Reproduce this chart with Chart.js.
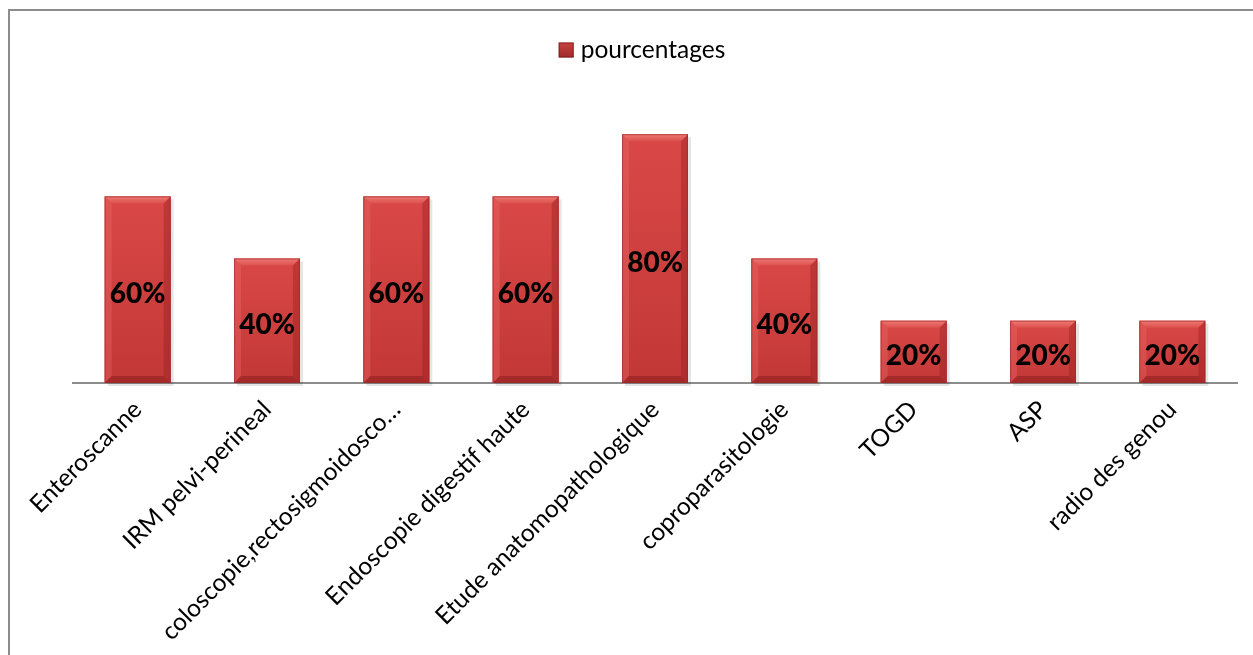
<!DOCTYPE html>
<html>
<head>
<meta charset="utf-8">
<script src="https://cdn.jsdelivr.net/npm/chart.js@4"></script>
<style>
  html, body { margin: 0; padding: 0; background: #fff; }
  #wrap { position: relative; width: 1253px; height: 655px; }
  #frame { position: absolute; left: 8px; top: 9px; width: 1260px; height: 660px;
           border-left: 2px solid #8c8c8c; border-top: 2px solid #8c8c8c; box-sizing: border-box; }
  canvas { position: absolute; left: 0; top: 0; }
</style>
</head>
<body>
<div id="wrap">
  <div id="frame"></div>
  <canvas id="c" width="1253" height="655"></canvas>
</div>
<script>
const categories = [
  "Enteroscanne",
  "IRM pelvi-perineal",
  "coloscopie,rectosigmoidosco…",
  "Endoscopie digestif haute",
  "Etude anatomopathologique",
  "coproparasitologie",
  "TOGD",
  "ASP",
  "radio des genou"
];
const pourcentages = [60, 40, 60, 60, 80, 40, 20, 20, 20];
const seriesName = "pourcentages";

const FONT = "Lato, 'Open Sans', sans-serif";

// Bevelled bar faces plus the value written in the middle of each bar
const bevelBars = {
  id: 'bevelBars',
  afterDatasetsDraw(chart) {
    const ctx = chart.ctx;
    const meta = chart.getDatasetMeta(0);
    meta.data.forEach((bar, i) => {
      const x0 = bar.x - bar.width / 2, x1 = bar.x + bar.width / 2;
      const y0 = bar.y, y1 = bar.base;
      const e = 7;
      ctx.save();
      // face
      const g = ctx.createLinearGradient(0, y0, 0, y1);
      g.addColorStop(0, '#d94846');
      g.addColorStop(1, '#c23837');
      ctx.fillStyle = g;
      ctx.fillRect(x0, y0, x1 - x0, y1 - y0);
      // top bevel
      const tg = ctx.createLinearGradient(0, y0, 0, y0 + e);
      tg.addColorStop(0, '#ee7a74');
      tg.addColorStop(1, '#dc504d');
      ctx.fillStyle = tg;
      ctx.beginPath();
      ctx.moveTo(x0, y0); ctx.lineTo(x1, y0); ctx.lineTo(x1 - e, y0 + e); ctx.lineTo(x0 + e, y0 + e); ctx.closePath();
      ctx.fill();
      // left bevel
      ctx.fillStyle = 'rgba(235,110,105,0.35)';
      ctx.beginPath();
      ctx.moveTo(x0, y0); ctx.lineTo(x0 + e, y0 + e); ctx.lineTo(x0 + e, y1 - e); ctx.lineTo(x0, y1); ctx.closePath();
      ctx.fill();
      // right bevel
      ctx.fillStyle = 'rgba(140,25,25,0.35)';
      ctx.beginPath();
      ctx.moveTo(x1, y0); ctx.lineTo(x1 - e, y0 + e); ctx.lineTo(x1 - e, y1 - e); ctx.lineTo(x1, y1); ctx.closePath();
      ctx.fill();
      // bottom bevel
      ctx.fillStyle = 'rgba(120,20,20,0.4)';
      ctx.beginPath();
      ctx.moveTo(x0, y1); ctx.lineTo(x0 + e, y1 - e); ctx.lineTo(x1 - e, y1 - e); ctx.lineTo(x1, y1); ctx.closePath();
      ctx.fill();
      // outline
      ctx.strokeStyle = 'rgba(150,40,40,0.55)';
      ctx.lineWidth = 1;
      ctx.strokeRect(x0 + 0.5, y0 + 0.5, x1 - x0 - 1, y1 - y0 - 1);
      // value
      ctx.fillStyle = '#000';
      ctx.font = '900 28px ' + FONT;
      ctx.textAlign = 'center';
      ctx.textBaseline = 'middle';
      ctx.fillText(pourcentages[i] + '%', bar.x, (y0 + y1) / 2 + 4);
      ctx.restore();
    });
  }
};

// Legend entry centred above the plot
const topLegend = {
  id: 'topLegend',
  afterDraw(chart) {
    const ctx = chart.ctx;
    ctx.save();
    ctx.font = '24.5px ' + FONT;
    const tw = ctx.measureText(seriesName).width;
    const box = 15, gap = 7;
    const total = box + gap + tw;
    const cx = (chart.chartArea.left + chart.chartArea.right) / 2 - 13;
    const x = cx - total / 2, y = 50;
    const g = ctx.createLinearGradient(0, y - box / 2, 0, y + box / 2);
    g.addColorStop(0, '#c84240'); g.addColorStop(1, '#9e2c2b');
    ctx.fillStyle = g;
    ctx.fillRect(x, y - box / 2, box, box);
    ctx.strokeStyle = 'rgba(110,20,20,0.7)';
    ctx.strokeRect(x + 0.5, y - box / 2 + 0.5, box - 1, box - 1);
    ctx.fillStyle = '#000';
    ctx.textAlign = 'left';
    ctx.textBaseline = 'middle';
    ctx.fillText(seriesName, x + box + gap, y);
    ctx.restore();
  }
};

// soft shadow behind bars
const barShadow = {
  id: 'barShadow',
  beforeDatasetsDraw(chart) {
    const ctx = chart.ctx;
    ctx.save();
    chart.getDatasetMeta(0).data.forEach(bar => {
      ctx.fillStyle = 'rgba(0,0,0,0.10)';
      ctx.fillRect(bar.x - bar.width / 2 + 3, bar.y + 3, bar.width, bar.base - bar.y);
    });
    ctx.restore();
  }
};

new Chart(document.getElementById('c'), {
  type: 'bar',
  data: {
    labels: categories,
    datasets: [{
      label: seriesName,
      data: pourcentages,
      backgroundColor: '#d04140',
      barPercentage: 0.51,
      categoryPercentage: 1.0
    }]
  },
  options: {
    responsive: false,
    animation: false,
    layout: { padding: { left: 73, right: 16, top: 72, bottom: 0 } },
    plugins: { legend: { display: false }, tooltip: { enabled: false } },
    scales: {
      x: {
        grid: { display: false, drawTicks: false },
        border: { display: true, color: '#8c8c8c', width: 2 },
        ticks: {
          color: '#000',
          font: { family: FONT, size: 24.5 },
          minRotation: 45, maxRotation: 45,
          padding: 12,
          autoSkip: false
        },
        afterFit(scale) { scale.height = 272; }
      },
      y: {
        display: false,
        min: 0, max: 100
      }
    }
  },
  plugins: [barShadow, bevelBars, topLegend]
});
</script>
</body>
</html>
